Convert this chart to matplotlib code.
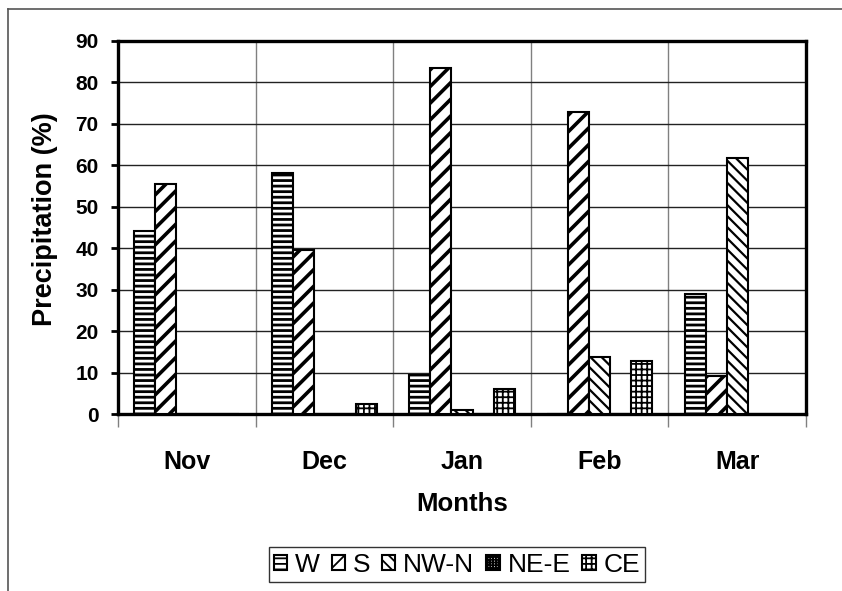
import matplotlib
matplotlib.use("Agg")
import matplotlib.pyplot as plt
import numpy as np
from matplotlib.lines import Line2D

plt.rcParams['font.family'] = ['Liberation Sans', 'DejaVu Sans']

months = ["Nov", "Dec", "Jan", "Feb", "Mar"]
series_names = ["W", "S", "NW-N", "NE-E", "CE"]
W = [44.2, 58.1, 9.3, 0.0, 28.9]
S = [55.6, 39.6, 83.4, 72.9, 9.2]
NWN = [0.0, 0.0, 1.0, 13.7, 61.8]
NEE = [0.0, 0.0, 0.0, 0.0, 0.0]
CE = [0.0, 2.3, 6.0, 12.9, 0.0]
yticks = [0, 10, 20, 30, 40, 50, 60, 70, 80, 90]

data = [W, S, NWN, NEE, CE]
hatches = ["---", "//", "\\\\\\", "++++++", "+++"]
hatch_lw = [2.0, 2.6, 1.6, 1.0, 1.3]

fig = plt.figure(figsize=(8.42, 5.91), dpi=100)
ax = fig.add_axes([118/842, 1-414/591, (806-118)/842, (414-41)/591])

x = np.arange(len(months))
bw = 0.153
for i, (vals, h, hl) in enumerate(zip(data, hatches, hatch_lw)):
    plt.rcParams['hatch.linewidth'] = hl
    bars = ax.bar(x + (i - 2) * bw, vals, width=bw, facecolor='white',
                  edgecolor='black', linewidth=1.5, hatch=h, label=series_names[i],
                  zorder=3)
    for b in bars:
        if hasattr(b, 'set_hatch_linewidth'):
            b.set_hatch_linewidth(hl)

ax.set_xlim(-0.5, 4.5)
ax.set_ylim(0, 90)
ax.set_yticks(yticks)
ax.set_yticklabels([str(v) for v in yticks], fontsize=15, fontweight='bold')
ax.set_xticks(x)
ax.set_xticklabels(months, fontsize=18, fontweight='bold')
ax.set_xticks(np.arange(-0.5, 5.0, 1.0), minor=True)
ax.tick_params(axis='x', which='major', length=0, pad=26)
ax.tick_params(axis='x', which='minor', length=9, width=1, color='#808080', direction='out')
ax.tick_params(axis='y', which='major', length=5, width=2, direction='out', pad=9)
ax.grid(axis='y', which='major', color='#222222', linewidth=1.0, zorder=0)
ax.grid(axis='x', which='minor', color='#808080', linewidth=1.0, zorder=0)
ax.set_axisbelow(True)
for sp in ax.spines.values():
    sp.set_linewidth(2.4)
    sp.set_color('black')

fig.text(45/842, 1-219/591, "Precipitation (%)", rotation=90, ha='center', va='center',
         fontsize=19.5, fontweight='bold')
fig.text(462/842, 1-504/591, "Months", ha='center', va='center',
         fontsize=18.5, fontweight='bold')

leg = fig.legend(loc='center', bbox_to_anchor=(457/842, 1-564.5/591), ncol=5,
                 fontsize=19, frameon=True, fancybox=False, handlelength=0.5,
                 handleheight=0.5, handletextpad=0.3, columnspacing=0.45,
                 borderpad=0.2, borderaxespad=0)
leg.get_frame().set_edgecolor('black')
leg.get_frame().set_linewidth(1.0)

# figure border (top and left visible)
fig.add_artist(Line2D([8/842, 8/842], [0, 1-9/591], transform=fig.transFigure,
                      color='#555555', linewidth=1.2))
fig.add_artist(Line2D([8/842, 1], [1-9/591, 1-9/591], transform=fig.transFigure,
                      color='#555555', linewidth=1.2))

fig.savefig("out.png", dpi=100)
